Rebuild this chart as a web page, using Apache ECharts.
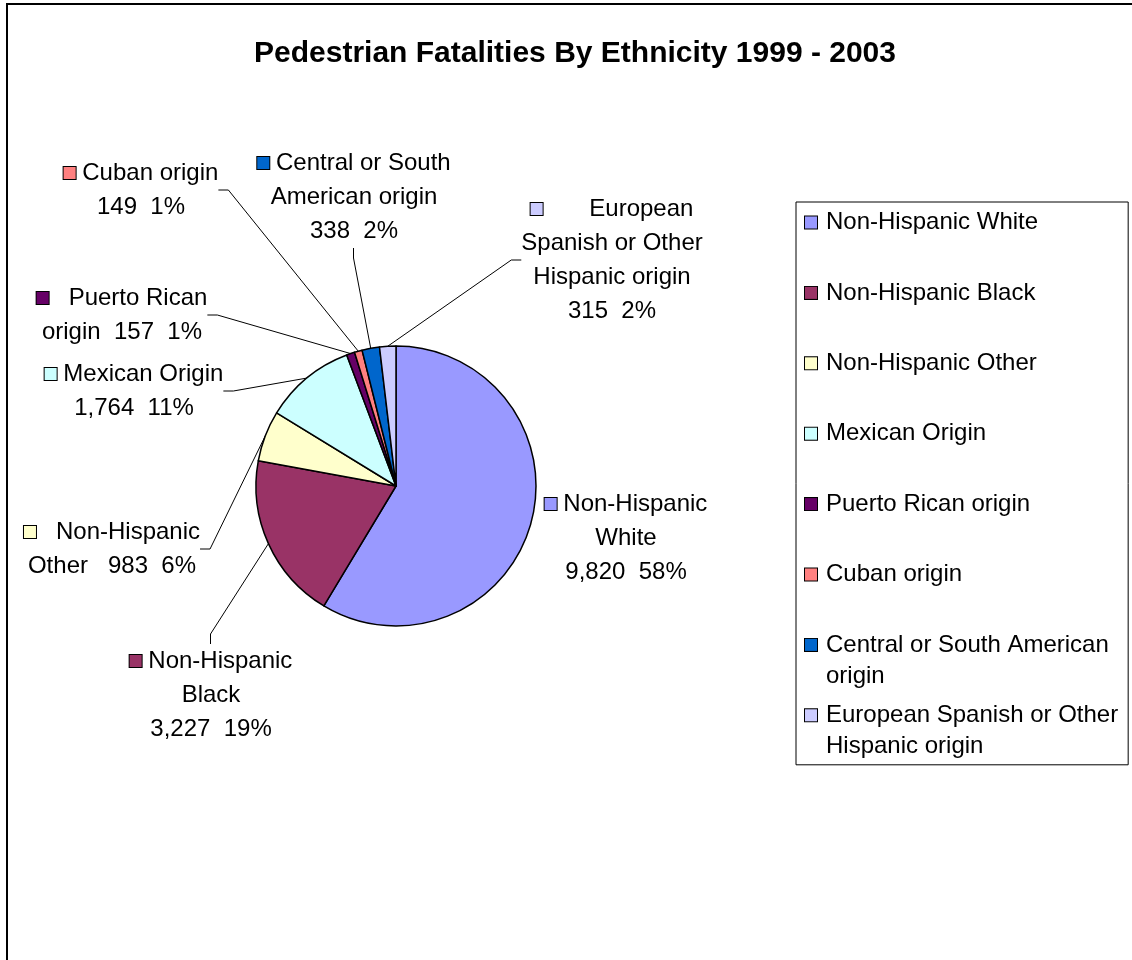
<!DOCTYPE html>
<html>
<head>
<meta charset="utf-8">
<script src="https://cdn.jsdelivr.net/npm/echarts@6/dist/echarts.min.js"></script>
<style>
html,body{margin:0;padding:0;background:#fff;}
#chart{width:1132px;height:960px;}
</style>
</head>
<body>
<div id="chart"></div>
<script>
const categories = ['Non-Hispanic White','Non-Hispanic Black','Non-Hispanic Other','Mexican Origin','Puerto Rican origin','Cuban origin','Central or South American origin','European Spanish or Other Hispanic origin'];
const values = [9820, 3227, 983, 1764, 157, 149, 338, 315];
const percentLabels = [58, 19, 6, 11, 1, 1, 2, 2];
const colors = ['#9999FF','#993366','#FFFFCC','#CCFFFF','#660066','#FF8080','#0066CC','#CCCCFF'];
// wrapped label text lines (last line gets value and percent)
const labelLines = [
  ['Non-Hispanic', 'White', ''],
  ['Non-Hispanic', 'Black', ''],
  ['  Non-Hispanic', 'Other   '],
  ['Mexican Origin', ''],
  ['  Puerto Rican', 'origin  '],
  ['Cuban origin', ''],
  ['Central or South', 'American origin', ''],
  ['      European', 'Spanish or Other', 'Hispanic origin', '']
];
const legendLines = [
  ['Non-Hispanic White'], ['Non-Hispanic Black'], ['Non-Hispanic Other'], ['Mexican Origin'],
  ['Puerto Rican origin'], ['Cuban origin'], ['Central or South American', 'origin'],
  ['European Spanish or Other', 'Hispanic origin']
];
// label block centres (layout)
const labelPos = [[626,538],[211,695],[112,549],[134,391],[122,315],[141,190],[354,197],[612,260]];

const FONT = "'Liberation Sans', Arial, sans-serif";
const squareRich = {};
colors.forEach((c, i) => {
  squareRich['b' + i] = {width: 12, height: 12, backgroundColor: c, borderColor: '#000', borderWidth: 1};
});

const chart = echarts.init(document.getElementById('chart'));
const option = {
  animation: false,
  backgroundColor: '#fff',
  title: {
    text: 'Pedestrian Fatalities By Ethnicity 1999 - 2003',
    left: 570, top: 34, textAlign: 'center',
    textStyle: {fontFamily: FONT, fontSize: 30, fontWeight: 'bold', color: '#000'}
  },
  graphic: [{
    type: 'rect', silent: true, z: -1,
    shape: {x: 7, y: 4, width: 1200, height: 1000},
    style: {fill: 'none', stroke: '#000', lineWidth: 2}
  }],
  legend: {
    orient: 'vertical', left: 796, top: 202,
    itemWidth: 0, itemHeight: 0, itemGap: 8.4, icon: 'rect',
    padding: [5, 10, 3, 3],
    borderColor: '#000', borderWidth: 1, backgroundColor: '#fff',
    selectedMode: false,
    data: categories,
    formatter: function (name) {
      const i = categories.indexOf(name);
      const l = legendLines[i];
      return '{b' + i + '|}{g|}{t|' + l[0] + '}\n{s|}{t|' + (l[1] || ' ') + '}';
    },
    textStyle: {
      fontFamily: FONT, fontSize: 24, color: '#000', lineHeight: 31,
      rich: Object.assign({
        g: {width: 9},
        s: {width: 21},
        t: {fontFamily: FONT, fontSize: 24, color: '#000', lineHeight: 31}
      }, squareRich)
    }
  },
  series: [{
    type: 'pie',
    center: [396, 486],
    radius: 140,
    startAngle: 90,
    clockwise: true,
    avoidLabelOverlap: false,
    itemStyle: {borderColor: '#000', borderWidth: 1.5},
    emphasis: {disabled: true},
    label: {
      show: true, position: 'outside',
      fontFamily: FONT, fontSize: 24, color: '#000', lineHeight: 34,
      formatter: function (p) {
        const i = p.dataIndex;
        const lines = labelLines[i].slice();
        const num = values[i].toLocaleString('en-US') + '  ' + percentLabels[i] + '%';
        lines[lines.length - 1] = lines[lines.length - 1] + num;
        return lines.map((t, k) => (k === 0 ? '{b' + i + '|}{t| ' + t + '}' : '{t|' + t + '}')).join('\n');
      },
      rich: Object.assign({
        t: {fontFamily: FONT, fontSize: 24, color: '#000', lineHeight: 34}
      }, squareRich)
    },
    labelLine: {show: true, length: 20, length2: 10, lineStyle: {color: '#000', width: 1}},
    labelLayout: function (params) {
      const pos = labelPos[params.dataIndex];
      return {x: pos[0], y: pos[1], align: 'center', verticalAlign: 'middle'};
    },
    data: categories.map((name, i) => ({
      name: name,
      value: values[i],
      itemStyle: {color: colors[i]},
      labelLine: {show: i !== 0}
    }))
  }]
};
chart.setOption(option);
</script>
</body>
</html>
